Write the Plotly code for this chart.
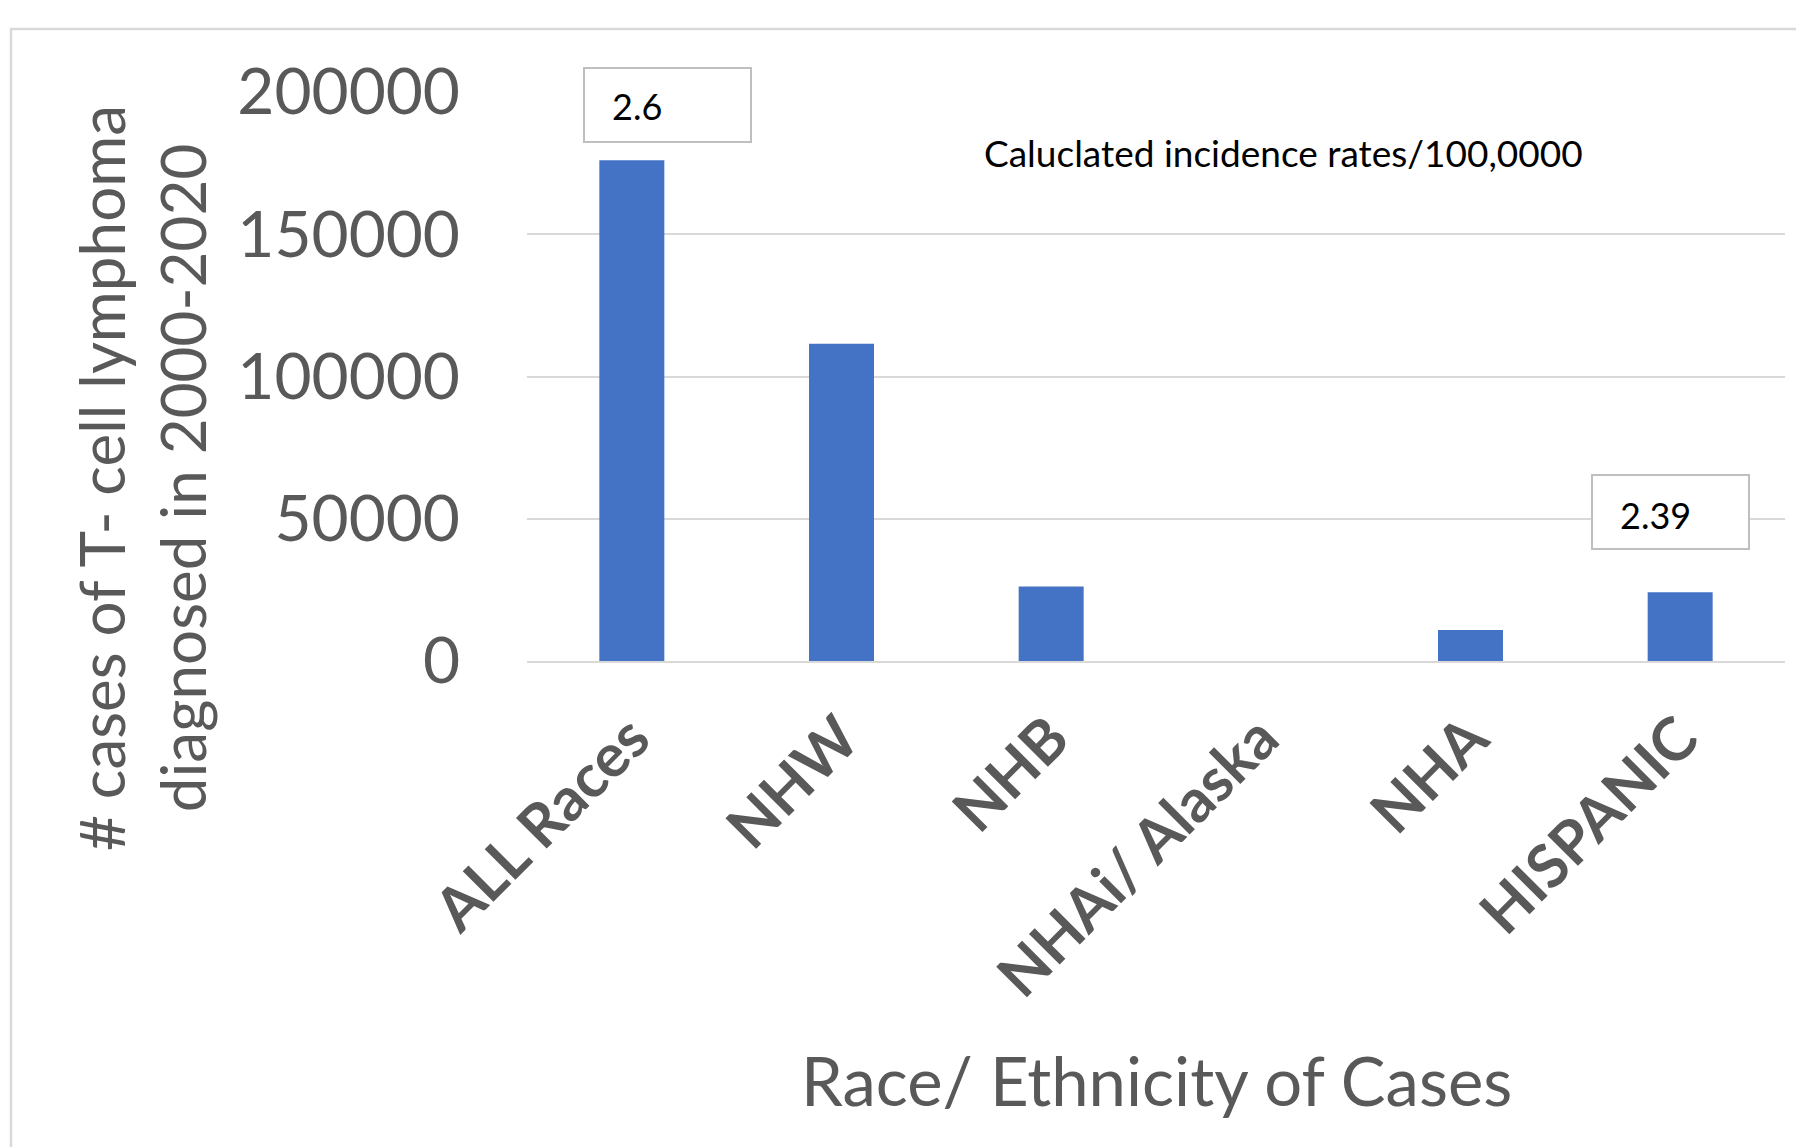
import plotly.graph_objects as go

# Case counts by race / ethnicity group
categories = ["ALL Races", "NHW", "NHB", "NHAi/ Alaska", "NHA", "HISPANIC"]
cases = [176000, 111500, 26200, 0, 10900, 24200]

# Incidence rates per 100,000 shown in call-out boxes
rate_labels = ["2.6", "2.39"]

y_ticks = [0, 50000, 100000, 150000, 200000]

FIG_W, FIG_H = 1796, 1147
PLOT_L, PLOT_R, PLOT_T, PLOT_B = 527, 1785, 92, 661

GRAY_TEXT = "#595959"
GRID = "#d9d9d9"
BAR = "#4472C4"
FONT = "Lato"


def px_x(x):
    return (x - PLOT_L) / (PLOT_R - PLOT_L)


def px_y(y):
    return (PLOT_B - y) / (PLOT_B - PLOT_T)


fig = go.Figure(
    go.Bar(
        x=categories,
        y=cases,
        marker=dict(color=BAR, line=dict(width=0)),
        width=0.31,
        hoverinfo="x+y",
    )
)

shapes = [
    # outer chart frame
    dict(type="rect", xref="paper", yref="paper",
         x0=px_x(11), x1=px_x(1810), y0=px_y(29), y1=px_y(1170),
         line=dict(color=GRID, width=2.5), fillcolor="rgba(0,0,0,0)", layer="below"),
    # call-out boxes
    dict(type="rect", xref="paper", yref="paper",
         x0=px_x(584), x1=px_x(751), y0=px_y(142), y1=px_y(68),
         line=dict(color="#bfbfbf", width=2), fillcolor="white", layer="above"),
    dict(type="rect", xref="paper", yref="paper",
         x0=px_x(1592), x1=px_x(1749), y0=px_y(549), y1=px_y(475),
         line=dict(color="#bfbfbf", width=2), fillcolor="white", layer="above"),
]

annotations = [
    dict(text=rate_labels[0], xref="paper", yref="paper",
         x=px_x(610), y=px_y(106), xanchor="left", yanchor="middle",
         showarrow=False, font=dict(family=FONT, size=36, color="black")),
    dict(text=rate_labels[1], xref="paper", yref="paper",
         x=px_x(1618), y=px_y(515), xanchor="left", yanchor="middle",
         showarrow=False, font=dict(family=FONT, size=36, color="black")),
    dict(text="Caluclated incidence rates/100,0000", xref="paper", yref="paper",
         x=px_x(982), y=px_y(152), xanchor="left", yanchor="middle",
         showarrow=False, font=dict(family=FONT, size=37, color="black")),
    # y-axis title
    dict(text="# cases of T- cell lymphoma<br>diagnosed in 2000-2020",
         xref="paper", yref="paper", x=px_x(141), y=px_y(478),
         xanchor="center", yanchor="middle", textangle=-90,
         showarrow=False, font=dict(family=FONT, size=62, color=GRAY_TEXT)),
    # x-axis title
    dict(text="Race/ Ethnicity of Cases", xref="paper", yref="paper",
         x=px_x(1156), y=px_y(1080), xanchor="center", yanchor="middle",
         showarrow=False, font=dict(family=FONT, size=67, color=GRAY_TEXT)),
]

fig.update_layout(
    width=FIG_W,
    height=FIG_H,
    margin=dict(l=PLOT_L, r=FIG_W - PLOT_R, t=PLOT_T, b=FIG_H - PLOT_B, autoexpand=False),
    paper_bgcolor="white",
    plot_bgcolor="white",
    showlegend=False,
    bargap=0.69,
    shapes=shapes,
    annotations=annotations,
    xaxis=dict(
        type="category",
        tickangle=-45,
        tickfont=dict(family=FONT, size=60, color=GRAY_TEXT, weight="bold"),
        showgrid=False,
        showline=True,
        linecolor=GRID,
        linewidth=2,
        ticks="",
        ticklabelstandoff=16,
        zeroline=False,
    ),
    yaxis=dict(
        range=[0, 200000],
        tickvals=y_ticks,
        ticktext=[str(v) for v in y_ticks],
        tickfont=dict(family=FONT, size=64, color=GRAY_TEXT),
        showgrid=True,
        gridcolor=GRID,
        gridwidth=2,
        zeroline=False,
        showline=False,
        ticks="",
        ticklabelstandoff=66,
    ),
)

fig.write_html("out.html")
